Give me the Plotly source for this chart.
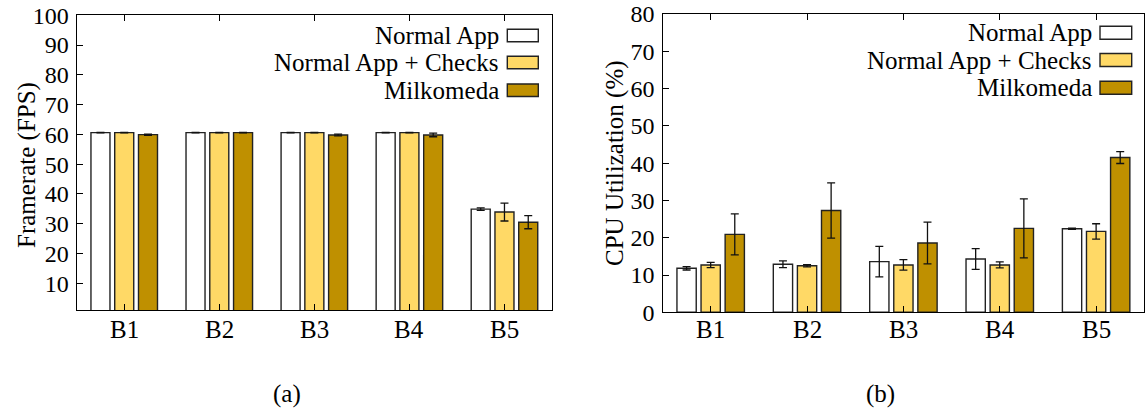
import plotly.graph_objects as go

W, H = 1145, 415

categories = ["B1", "B2", "B3", "B4", "B5"]
series_names = ["Normal App", "Normal App + Checks", "Milkomeda"]
series_colors = ["#FFFFFF", "#FFD966", "#BF9000"]

# (a) Framerate (FPS)
fps_normal = [60.6, 60.6, 60.6, 60.6, 34.9]
fps_normal_err = [0.1, 0.1, 0.1, 0.1, 0.4]
fps_checks = [60.6, 60.6, 60.6, 60.6, 33.9]
fps_checks_err = [0.1, 0.1, 0.1, 0.1, 3.0]
fps_milk = [59.9, 60.6, 59.8, 59.8, 30.5]
fps_milk_err = [0.2, 0.1, 0.3, 0.6, 2.2]

# (b) CPU Utilization (%)
cpu_normal = [11.8, 12.9, 13.6, 14.3, 22.4]
cpu_normal_err = [0.45, 0.9, 4.1, 2.8, 0.15]
cpu_checks = [12.7, 12.5, 12.7, 12.7, 21.7]
cpu_checks_err = [0.7, 0.3, 1.4, 0.8, 2.05]
cpu_milk = [20.9, 27.3, 18.6, 22.5, 41.5]
cpu_milk_err = [5.5, 7.4, 5.6, 7.9, 1.6]

fps_ticks = [10, 20, 30, 40, 50, 60, 70, 80, 90, 100]
cpu_ticks = [0, 10, 20, 30, 40, 50, 60, 70, 80]

FONT = "Liberation Serif, Times New Roman, Times, serif"
FS = 24
FS_TXT = 25


def px(x):
    return x / W


def py(y):
    return 1 - y / H


fig = go.Figure()

fps_data = [(fps_normal, fps_normal_err), (fps_checks, fps_checks_err), (fps_milk, fps_milk_err)]
cpu_data = [(cpu_normal, cpu_normal_err), (cpu_checks, cpu_checks_err), (cpu_milk, cpu_milk_err)]

for (vals, errs), name, col in zip(fps_data, series_names, series_colors):
    fig.add_trace(go.Bar(
        x=categories, y=vals, name=name, xaxis="x", yaxis="y",
        marker=dict(color=col, line=dict(color="#222222", width=1.4)),
        error_y=dict(type="data", array=errs, visible=True, color="#111111", thickness=1.3, width=4),
        showlegend=False,
    ))

for (vals, errs), name, col in zip(cpu_data, series_names, series_colors):
    fig.add_trace(go.Bar(
        x=categories, y=vals, name=name, xaxis="x2", yaxis="y2",
        marker=dict(color=col, line=dict(color="#222222", width=1.4)),
        error_y=dict(type="data", array=errs, visible=True, color="#111111", thickness=1.3, width=4),
        showlegend=False,
    ))

axis_common = dict(
    showgrid=False, zeroline=False, showline=True, linecolor="black", linewidth=1.3,
    ticks="inside", tickcolor="black", tickwidth=1.2, ticklen=6, automargin=False,
    tickfont=dict(family=FONT, size=FS, color="black"),
)

fig.update_layout(
    width=W, height=H,
    margin=dict(l=0, r=0, t=0, b=0, pad=0),
    paper_bgcolor="white", plot_bgcolor="white",
    barmode="group", bargap=0.25, bargroupgap=0.2,
    font=dict(family=FONT, size=FS, color="black"),
    xaxis=dict(domain=[px(76.7), px(552)], anchor="y", type="category",
               range=[-0.5, 4.5], mirror="ticks", showticklabels=False, **axis_common),
    yaxis=dict(domain=[py(310), py(15.3)], anchor="x", range=[1, 100],
               tickvals=fps_ticks, mirror=True, ticklabelstandoff=2, **axis_common),
    xaxis2=dict(domain=[px(662.5), px(1144.3)], anchor="y2", type="category",
                range=[-0.5, 4.5], mirror="ticks", showticklabels=False, **axis_common),
    yaxis2=dict(domain=[py(312.3), py(14)], anchor="x2", range=[0, 80],
                tickvals=cpu_ticks, mirror=True, ticklabelstandoff=2, **axis_common),
)

annotations = []
shapes = []

# category labels under each panel
for xr, y_px in (("x", 329), ("x2", 329)):
    for cat in categories:
        annotations.append(dict(text=cat, x=cat, xref=xr, y=py(y_px), yref="paper",
                                showarrow=False, xanchor="center", yanchor="middle",
                                font=dict(family=FONT, size=FS_TXT)))

# y-axis titles
annotations.append(dict(text="Framerate (FPS)", x=px(27), y=py(165), xref="paper", yref="paper",
                        textangle=-90, showarrow=False, xanchor="center", yanchor="middle",
                        font=dict(family=FONT, size=FS_TXT)))
annotations.append(dict(text="CPU Utilization (%)", x=px(615), y=py(163), xref="paper", yref="paper",
                        textangle=-90, showarrow=False, xanchor="center", yanchor="middle",
                        font=dict(family=FONT, size=FS_TXT)))

# subfigure labels
annotations.append(dict(text="(a)", x=px(287), y=py(394), xref="paper", yref="paper",
                        showarrow=False, xanchor="center", yanchor="middle", font=dict(family=FONT, size=FS_TXT)))
annotations.append(dict(text="(b)", x=px(880), y=py(394), xref="paper", yref="paper",
                        showarrow=False, xanchor="center", yanchor="middle", font=dict(family=FONT, size=FS_TXT)))


def add_legend(text_right, box_left, box_right, rows_y, box_h):
    for name, col, yc in zip(series_names, series_colors, rows_y):
        annotations.append(dict(text=name, x=px(text_right), y=py(yc), xref="paper", yref="paper",
                                showarrow=False, xanchor="right", yanchor="middle",
                                font=dict(family=FONT, size=FS_TXT)))
        shapes.append(dict(type="rect", xref="paper", yref="paper",
                           x0=px(box_left), x1=px(box_right),
                           y0=py(yc + box_h / 2), y1=py(yc - box_h / 2),
                           fillcolor=col, line=dict(color="#222222", width=1.4)))


add_legend(501, 507.3, 538.3, [35.5, 62.5, 90.2], 12.5)
add_legend(1094, 1100, 1131.7, [32.7, 60, 87.7], 13)

fig.update_layout(annotations=annotations, shapes=shapes)

fig.write_html(
    "out.html",
    config={"displayModeBar": False},
    post_script="document.body.style.margin='0';document.body.style.overflow='hidden';",
)
